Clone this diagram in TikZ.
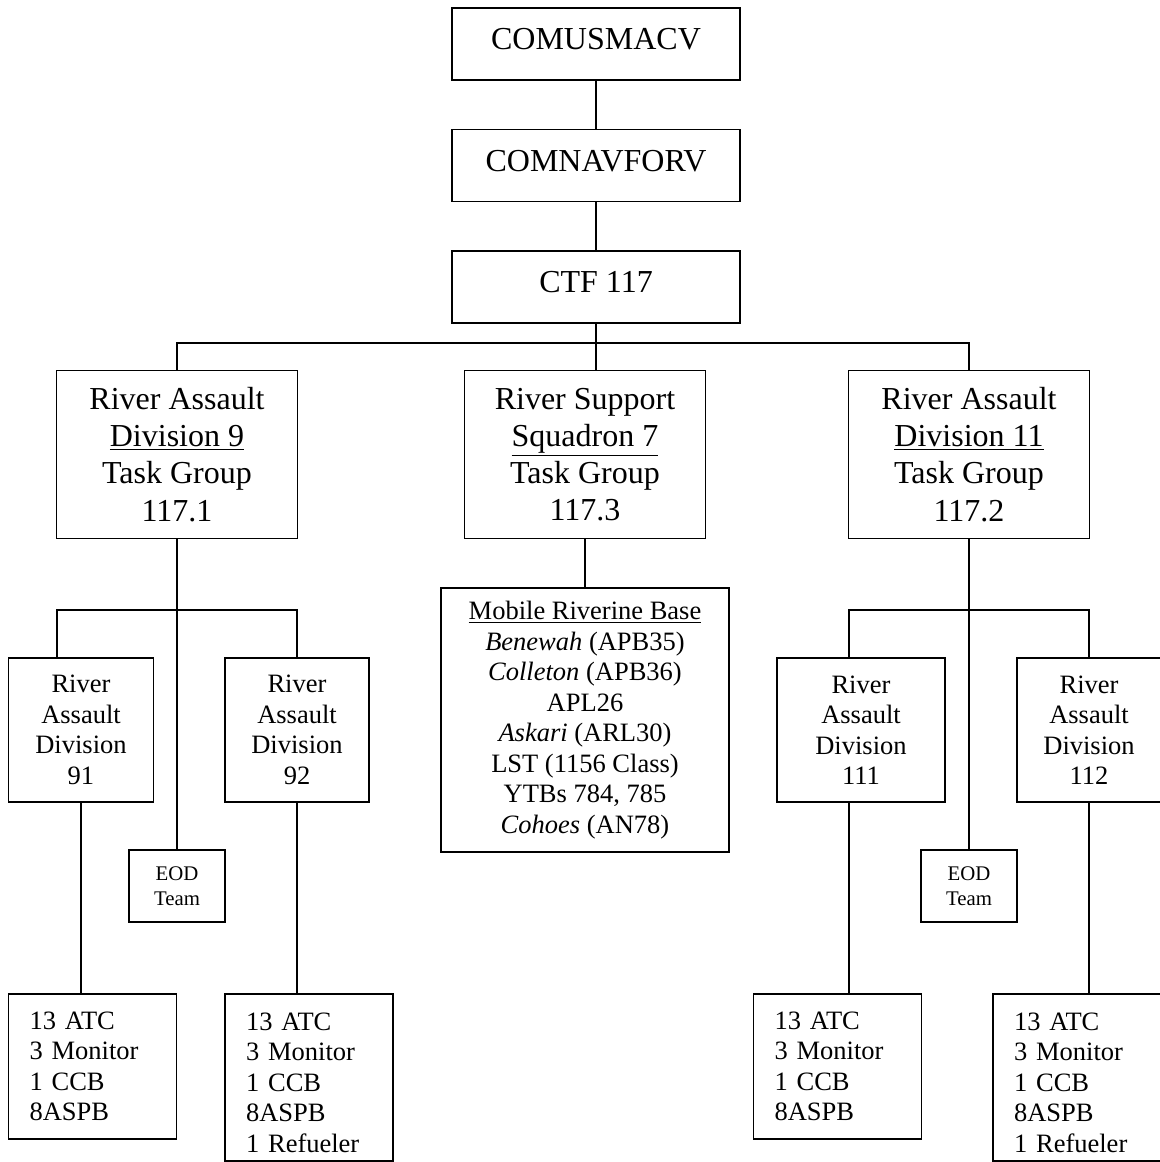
\documentclass[tikz,border=0pt]{standalone}
\usepackage{fontspec}
\setmainfont{Liberation Serif}
\usetikzlibrary{positioning}
\tikzset{
  % boxes of the chain of command
  bigbox/.style={draw, rectangle, align=center,
  font=\fontsize{16}{18.6}\selectfont},
  cmdbox/.style={bigbox, minimum width=144pt, minimum height=36pt, text depth=5pt},
  tgbox/.style={bigbox, minimum width=120.5pt, minimum height=84pt},
  % boxes of the divisions
  divbox/.style={draw, rectangle, align=center,
  minimum width=72pt, minimum height=72pt,
  font=\fontsize{13.25}{15.25}\selectfont},
  eodbox/.style={draw, rectangle, align=center,
  minimum width=48pt, minimum height=36pt,
  font=\fontsize{10.4}{12.5}\selectfont},
  boatbox/.style={draw, rectangle, align=left,
  text width=63pt, inner xsep=10.5pt, minimum height=72.5pt,
  font=\fontsize{13.25}{15.25}\selectfont}}

\begin{document}
\begin{tikzpicture}[x=0.5pt, y=-0.5pt, line width=0.8pt]
\path [use as bounding box, clip] (0,0) rectangle (1160,1162);

\draw (596,44) node (comusmacv) [cmdbox] {COMUSMACV};
\node (comnavforv) [cmdbox, below=24pt of comusmacv] {COMNAVFORV};
\node (ctf) [cmdbox, below=24pt of comnavforv] {CTF 117};

\draw (177,454.5) node (rad9) [tgbox] {River Assault\\\underline{Division 9}\\Task Group\\117.1};
\draw (585,454.5) node (rss7) [tgbox] {River Support\\\underline{Squadron 7}\\Task Group\\117.3};
\draw (969,454.5) node (rad11) [tgbox] {River Assault\\\underline{Division 11}\\Task Group\\117.2};

\draw (585,720) node (mrb) [divbox, minimum width=144pt, minimum height=132pt]
  {\underline{Mobile Riverine Base}\\\textit{Benewah} (APB35)\\\textit{Colleton} (APB36)\\APL26\\
   \textit{Askari} (ARL30)\\LST (1156 Class)\\YTBs 784, 785\\\textit{Cohoes} (AN78)};

\draw (81,730) node (rad91) [divbox, minimum width=72.5pt] {River\\Assault\\Division\\91};
\draw (297,730) node (rad92) [divbox] {River\\Assault\\Division\\92};
\draw (861,730) node (rad111) [divbox, minimum width=84pt] {River\\Assault\\Division\\111};
\draw (1089,730) node (rad112) [divbox] {River\\Assault\\Division\\112};

\draw (177,886) node (eod1) [eodbox] {EOD\\Team};
\draw (969,886) node (eod2) [eodbox] {EOD\\Team};

\draw (92.5,1066.5) node (atc1) [boatbox] {13 ATC\\3 Monitor\\1 CCB\\8ASPB};
\draw (309,1077.5) node (atc2) [boatbox, minimum height=83.5pt, text height=14pt] {13 ATC\\3 Monitor\\1 CCB\\8ASPB\\1 Refueler};
\draw (837.5,1066.5) node (atc3) [boatbox] {13 ATC\\3 Monitor\\1 CCB\\8ASPB};
\draw (1077,1077.5) node (atc4) [boatbox, minimum height=83.5pt, text height=14pt] {13 ATC\\3 Monitor\\1 CCB\\8ASPB\\1 Refueler};

% chain of command
\draw (comusmacv) -- (comnavforv);
\draw (comnavforv) -- (ctf);
\draw (ctf.south) -- (ctf.south |- rss7.north);
\coordinate (bus) at (596,343);
\draw (rad9.north) -- (rad9.north |- bus) -- (rad11.north |- bus) -- (rad11.north);
\draw (rss7) -- (mrb);

% task group 117.1
\draw (rad9) -- (eod1);
\coordinate (sub9) at (57,610);
\draw (sub9 |- rad91.north) -- (sub9) -| (rad92.north);
\draw (rad91.south) -- (rad91.south |- atc1.north);
\draw (rad92.south) -- (rad92.south |- atc2.north);

% task group 117.2
\draw (rad11) -- (eod2);
\coordinate (sub11) at (849,610);
\draw (sub11 |- rad111.north) -- (sub11) -| (rad112.north);
\draw (sub11 |- rad111.south) -- (sub11 |- atc3.north);
\draw (rad112.south) -- (rad112.south |- atc4.north);

\end{tikzpicture}
\end{document}
